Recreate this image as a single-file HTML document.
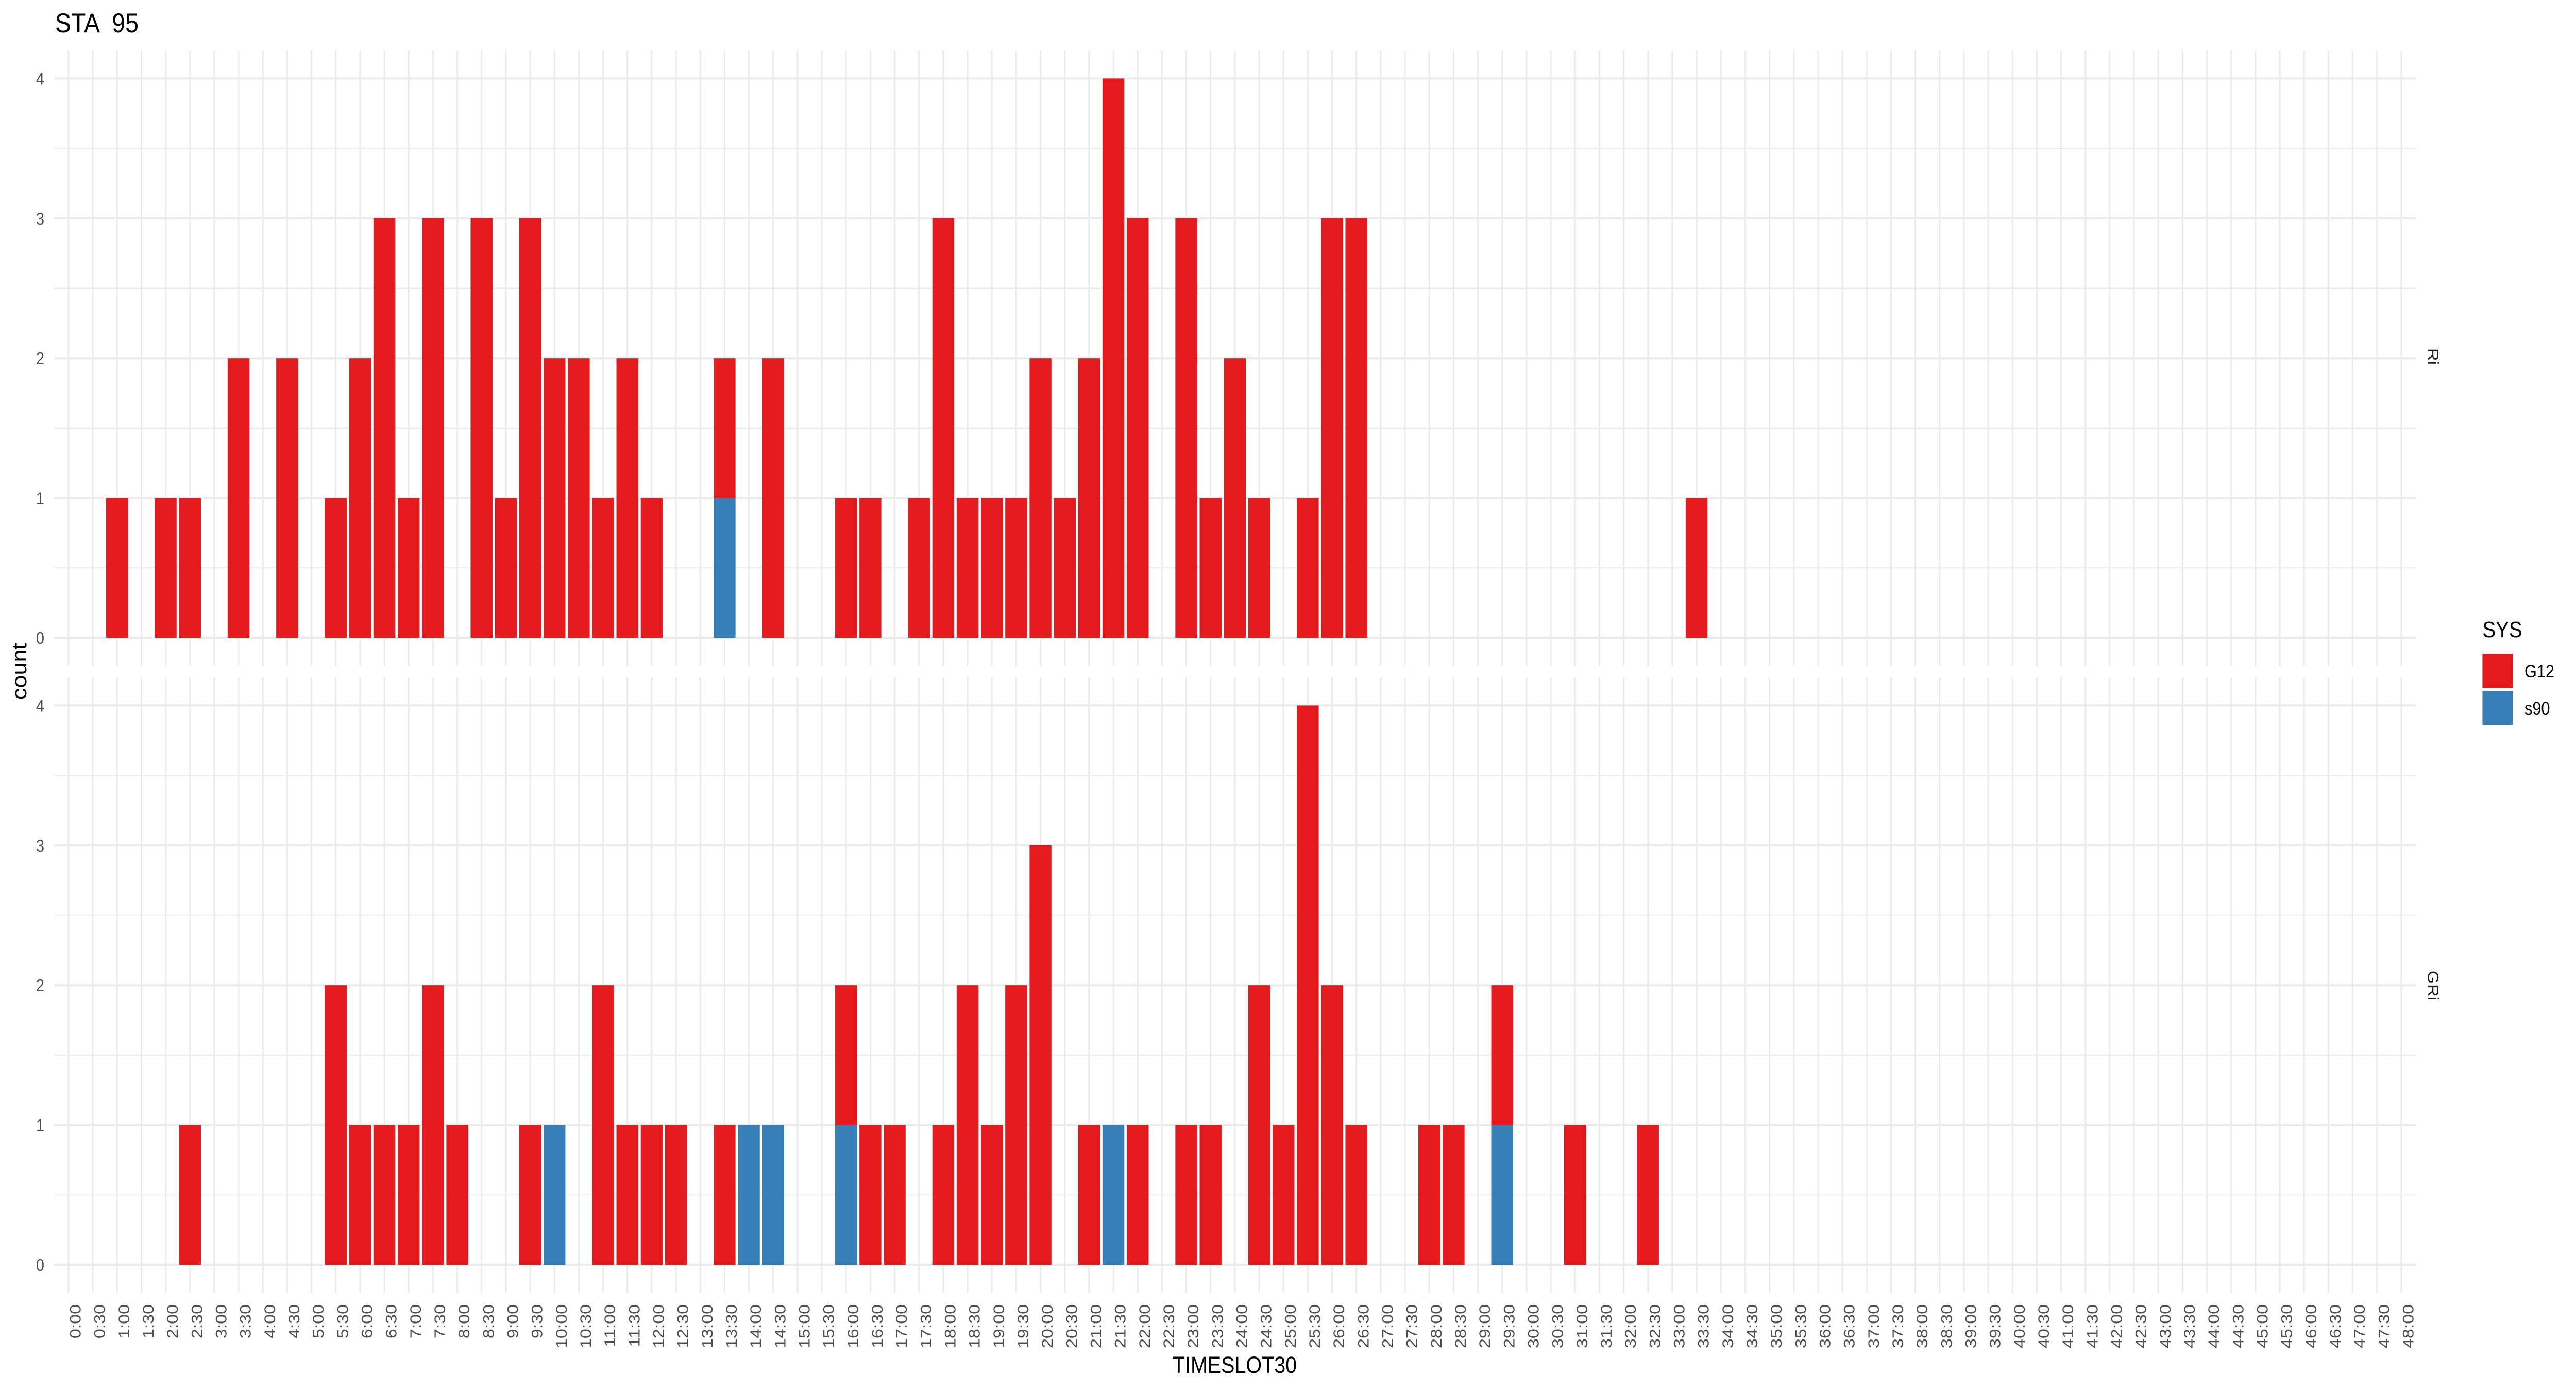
<!DOCTYPE html>
<html><head><meta charset="utf-8"><style>
html,body{margin:0;padding:0;background:#fff;overflow:hidden;width:100%;height:100%;}
svg{display:block;font-family:"Liberation Sans",Arial,sans-serif;width:100vw;height:100vh;}
</style></head><body>
<svg id="chart" viewBox="0 0 5700 2700" preserveAspectRatio="none" xmlns="http://www.w3.org/2000/svg">
<rect width="5700" height="2700" fill="#fff"/>
<g id="grid"></g>
<g id="bars"></g>
<g id="labels"></g>
<text x="122" y="63" font-size="53" fill="#000" style="white-space:pre" xml:space="preserve">STA  95</text>
<text x="2732" y="2665" font-size="45" fill="#000" text-anchor="middle">TIMESLOT30</text>
<text transform="translate(58,1303) rotate(-90)" font-size="45" fill="#000" text-anchor="middle">count</text>
<text transform="translate(5372,692) rotate(90)" font-size="34" fill="#1a1a1a" text-anchor="middle">Ri</text>
<text transform="translate(5372,1913) rotate(90)" font-size="34" fill="#1a1a1a" text-anchor="middle">GRi</text>
<g>
<text x="5493" y="1237" font-size="44" fill="#000">SYS</text>
<rect x="5493" y="1269" width="67" height="66" fill="#E41A1C"/>
<text x="5586" y="1315" font-size="35" fill="#000">G12</text>
<rect x="5493" y="1341" width="67" height="66" fill="#377EB8"/>
<text x="5586" y="1387" font-size="35" fill="#000">s90</text>
</g>
</svg>
<script>
// Data: category index -> counts
const riG12Idx = [2,4,5,7,9,11,12,13,14,15,17,18,19,20,21,22,23,24,27,29,32,33,35,36,37,38,39,40,41,42,43,44,46,47,48,49,51,52,53,67];
const riG12Val = [1,1,1,2,2,1,2,3,1,3,3,1,3,2,2,1,2,1,1,2,1,1,1,3,1,1,1,2,1,2,4,3,3,1,2,1,1,3,3,1];
const riS90Idx = [27];
const riS90Val = [1];
const griG12Idx = [5,11,12,13,14,15,16,19,22,23,24,25,27,32,33,34,36,37,38,39,40,42,44,46,47,49,50,51,52,53,56,57,59,62,65];
const griG12Val = [1,2,1,1,1,2,1,1,2,1,1,1,1,1,1,1,1,2,1,2,3,1,1,1,1,2,1,4,2,1,1,1,1,1,1];
const griS90Idx = [20,28,29,32,43,59];
const griS90Val = [1,1,1,1,1,1];
const yTicks = [0,1,2,3,4];

const NS = "http://www.w3.org/2000/svg";
const cats = [];
for (let h = 0; h <= 48; h++) { cats.push(h + ":00"); if (h < 48) cats.push(h + ":30"); }

const X0 = 151.5, DX = 53.77, BW = 0.9 * DX;
const PL = 119.4, PR = 5346;
const UNIT = 271.4;
const panels = [
  {name: "ri", zero: 1238, g12i: riG12Idx, g12v: riG12Val, s90i: riS90Idx, s90v: riS90Val},
  {name: "gri", zero: 2455, g12i: griG12Idx, g12v: griG12Val, s90i: griS90Idx, s90v: griS90Val}
];
function xs(i) { return X0 + i * DX; }
function mk(tag, attrs, parent) {
  const e = document.createElementNS(NS, tag);
  for (const k in attrs) e.setAttribute(k, attrs[k]);
  parent.appendChild(e);
  return e;
}
const grid = document.getElementById("grid");
const bars = document.getElementById("bars");
const labels = document.getElementById("labels");

panels.forEach(p => {
  const ys = v => p.zero - v * UNIT;
  const top = ys(4.2), bot = ys(-0.2);
  for (let k = 0; k < yTicks.length - 1; k++) {
    const l = mk("line", {x1: PL, x2: PR, y1: ys(yTicks[k] + 0.5), y2: ys(yTicks[k] + 0.5), stroke: "#ebebeb", "stroke-width": 2}, grid);
    
    
  }
  cats.forEach((c, i) => {
    const l = mk("line", {x1: xs(i), x2: xs(i), y1: top, y2: bot, stroke: "#ebebeb", "stroke-width": 3.5}, grid);
    
    
  });
  yTicks.forEach(v => {
    const l = mk("line", {x1: PL, x2: PR, y1: ys(v), y2: ys(v), stroke: "#ebebeb", "stroke-width": 4}, grid);
    
    
    const t = mk("text", {x: 98, y: ys(v) + 12, "font-size": 33, fill: "#4d4d4d", "text-anchor": "end"}, labels);
    t.textContent = String(v);
    
    
  });
  const base = {};
  p.s90i.forEach((ci, k) => {
    const v = p.s90v[k];
    const r = mk("rect", {x: xs(ci) - BW / 2, y: ys(v), width: BW, height: v * UNIT, fill: "#377EB8"}, bars);
    
    
    base[ci] = v;
  });
  p.g12i.forEach((ci, k) => {
    const v = p.g12v[k];
    const b = base[ci] || 0;
    const r = mk("rect", {x: xs(ci) - BW / 2, y: ys(b + v), width: BW, height: v * UNIT, fill: "#E41A1C"}, bars);
    
    
  });
});
cats.forEach((c, i) => {
  const t = mk("text", {transform: "translate(" + (xs(i) + 27) + ",2532) rotate(-90)", "font-size": 34, fill: "#4d4d4d", "text-anchor": "end"}, labels);
  t.textContent = c;
  
  
});
</script>
</body></html>
